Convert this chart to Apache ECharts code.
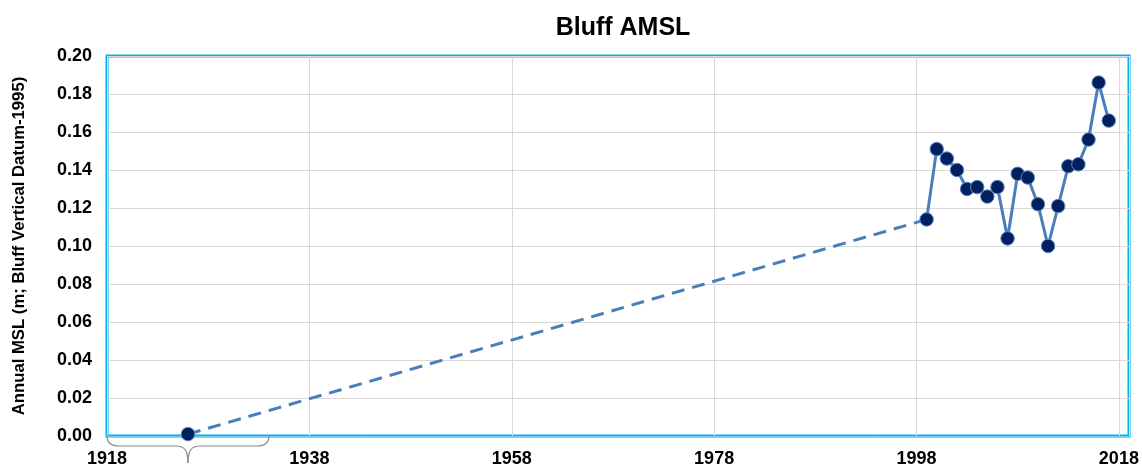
<!DOCTYPE html>
<html>
<head>
<meta charset="utf-8">
<title>Bluff AMSL</title>
<script src="https://cdn.jsdelivr.net/npm/echarts@6/dist/echarts.min.js"></script>
<style>
  html, body { margin: 0; padding: 0; background: #ffffff; }
  #chart { width: 1142px; height: 468px; }
</style>
</head>
<body>
<div id="chart"></div>
<script>
// Annual mean sea level at Bluff, relative to Bluff Vertical Datum-1995 (m)
const years = [1999, 2000, 2001, 2002, 2003, 2004, 2005, 2006, 2007, 2008,
               2009, 2010, 2011, 2012, 2013, 2014, 2015, 2016, 2017];
const msl = [0.114, 0.151, 0.146, 0.140, 0.130, 0.131, 0.126, 0.131, 0.104, 0.138,
             0.136, 0.122, 0.100, 0.121, 0.142, 0.143, 0.156, 0.186, 0.166];

// Datum epoch value (centre of the averaging period) and the period itself
const datumYear = 1926;
const datumValue = 0.001;
const datumPeriod = [1918, 1934];

// Axis settings
const xTicks = { min: 1918, max: 2019, step: 20 };
const yTicks = { min: 0, max: 0.2, step: 0.02 };

const FONT = 'Liberation Sans, Arial, sans-serif';
const NARROW = 'Liberation Sans Narrow, Arial Narrow, Liberation Sans, sans-serif';
const LINE = '#4a7ebb';
const MARK = '#002060';

const chart = echarts.init(document.getElementById('chart'), null, { renderer: 'canvas' });

const annual = years.map((y, i) => [y, msl[i]]);
const link = [[datumYear, datumValue], [years[0], msl[0]]];

chart.setOption({
  animation: false,
  backgroundColor: '#ffffff',
  title: {
    text: 'Bluff AMSL',
    left: 618,
    textAlign: 'center',
    top: 11,
    textStyle: { fontFamily: FONT, fontWeight: 'bold', fontSize: 25, color: '#000' }
  },
  grid: {
    left: 107, right: 13, top: 56, bottom: 32,
    containLabel: false,
    outerBoundsMode: 'none',
    show: true,
    borderColor: '#00b0f0',
    borderWidth: 3,
    backgroundColor: 'transparent'
  },
  xAxis: {
    type: 'value',
    min: xTicks.min,
    max: xTicks.max,
    interval: xTicks.step,
    axisLine: { show: true, lineStyle: { color: '#6fcdf4', width: 1 } },
    axisTick: { show: false },
    axisLabel: {
      showMaxLabel: false,
      margin: 14,
      fontFamily: NARROW, fontWeight: 'bold', fontSize: 18, color: '#000',
      formatter: v => String(v)
    },
    splitLine: { show: true, lineStyle: { color: '#d9d9d9', width: 1 } }
  },
  yAxis: {
    type: 'value',
    min: yTicks.min,
    max: yTicks.max,
    interval: yTicks.step,
    name: 'Annual MSL (m; Bluff Vertical Datum-1995)',
    nameLocation: 'middle',
    nameGap: 79,
    nameTextStyle: { fontFamily: NARROW, fontWeight: 'bold', fontSize: 16.7, color: '#000' },
    axisLine: { show: false },
    axisTick: { show: false },
    axisLabel: {
      margin: 15,
      fontFamily: NARROW, fontWeight: 'bold', fontSize: 18, color: '#000',
      formatter: v => v.toFixed(2)
    },
    splitLine: { show: true, lineStyle: { color: '#d9d9d9', width: 1 } }
  },
  series: [
    {
      name: 'trend link',
      type: 'line',
      data: link,
      showSymbol: true,
      symbol: 'circle',
      symbolSize: (val, params) => params.dataIndex === 0 ? 13.5 : 0,
      itemStyle: { color: MARK, borderColor: '#5b86c0', borderWidth: 1 },
      lineStyle: { color: LINE, width: 3, type: [13, 8] },
      z: 3
    },
    {
      name: 'Annual MSL',
      type: 'line',
      data: annual,
      symbol: 'circle',
      symbolSize: 13.5,
      itemStyle: { color: MARK, borderColor: '#5b86c0', borderWidth: 1 },
      lineStyle: { color: LINE, width: 3 },
      z: 4
    }
  ]
});

// Curly brace under the x axis marking the datum averaging period
function drawBrace() {
  const p0 = chart.convertToPixel({ gridIndex: 0 }, [datumPeriod[0], 0]);
  const p1 = chart.convertToPixel({ gridIndex: 0 }, [datumPeriod[1], 0]);
  const x0 = p0[0], x1 = p1[0], xm = (x0 + x1) / 2;
  const yTop = p0[1], yMid = yTop + 10, yTip = yTop + 27;
  const style = { stroke: '#8a8a8a', lineWidth: 1.2, fill: null };
  const curve = (ax, ay, bx, by, cx1, cy1, cx2, cy2) => ({
    type: 'bezierCurve',
    shape: { x1: ax, y1: ay, x2: bx, y2: by, cpx1: cx1, cpy1: cy1, cpx2: cx2, cpy2: cy2 },
    style, z: 10, silent: true
  });
  const seg = (ax, ay, bx, by) => ({
    type: 'line', shape: { x1: ax, y1: ay, x2: bx, y2: by }, style, z: 10, silent: true
  });
  chart.setOption({
    graphic: [{
      type: 'group',
      children: [
        curve(x0, yTop, x0 + 12, yMid, x0, yMid - 4, x0 + 4, yMid),
        seg(x0 + 12, yMid, xm - 12, yMid),
        curve(xm - 12, yMid, xm, yTip, xm - 3, yMid, xm, yMid + 5),
        curve(xm, yTip, xm + 12, yMid, xm, yMid + 5, xm + 3, yMid),
        seg(xm + 12, yMid, x1 - 12, yMid),
        curve(x1 - 12, yMid, x1, yTop, x1 - 4, yMid, x1, yMid - 4)
      ]
    }]
  });
}
drawBrace();
</script>
</body>
</html>
